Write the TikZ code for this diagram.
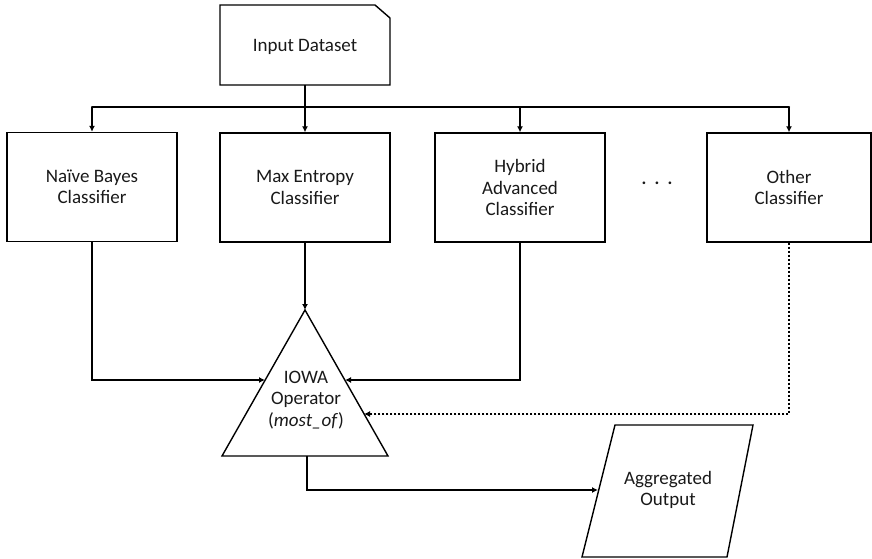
\documentclass[tikz,border=0pt]{standalone}
\usepackage{fontspec}
\setmainfont{Carlito}
\usetikzlibrary{arrows.meta}
\begin{document}
\begin{tikzpicture}[x=1pt,y=-1pt,
  cbox/.style={draw,line width=1.4pt,minimum width=170pt,minimum height=109pt,align=center,inner sep=0pt},
  txt/.style={font=\fontsize{19}{21.5}\selectfont,align=center,text=black!90},
  shapeline/.style={draw,line width=1.4pt,line join=miter},
  conn/.style={line width=2pt},
  arr/.style={conn,-{Latex[length=6pt,width=6pt]}},
  dotarr/.style={line width=2pt,dotted,-{Latex[length=6pt,width=6pt]}}]
\useasboundingbox (0,0) rectangle (872,559);
% input dataset
\draw[shapeline] (220,5) -- (375,5) -- (390,18) -- (390,85) -- (220,85) -- cycle;
\node[txt] (in) at (305,47) {Input Dataset};
\coordinate (inb) at (305,85);
% classifiers
\node[cbox,txt] (nb) at (92,187) {Naïve Bayes\\Classifier};
\node[cbox,txt] (me) at (305,187.5) {Max Entropy\\Classifier};
\node[cbox,txt] (hy) at (520,187.5) {Hybrid\\Advanced\\Classifier};
\node[cbox,txt,minimum width=164pt] (ot) at (789,187.5) {Other\\Classifier};
\node[txt,font=\fontsize{18}{20}\selectfont\bfseries] (dots) at (657,183) {.\ \ .\ \ .};
% bus
\coordinate (bl) at (92,107);
\coordinate (bm) at (305,107);
\coordinate (bh) at (520,107);
\coordinate (br) at (789,107);
\draw[conn] (inb) -- (bm);
\draw[conn,line cap=round] (bl) -- (br);
\draw[arr] (bl) -- (nb.north);
\draw[arr] (bm) -- (me.north);
\draw[arr] (bh) -- (hy.north);
\draw[arr] (br) -- (ot.north);
% triangle
\coordinate (tA) at (305,310);
\coordinate (tL) at (222,456);
\coordinate (tR) at (388,456);
\draw[shapeline] (tA) -- (tR) -- (tL) -- cycle;
\node[txt] (iowa) at (306,400) {IOWA\\Operator\\(\textit{most\_of})};
\coordinate (tinL) at (265,380);
\coordinate (tinR) at (345,380);
\coordinate (tinD) at (364,414);
\coordinate (tbot) at (307,456);
\draw[arr] (me.south) -- (tA);
\draw[arr] (nb.south) |- (tinL);
\draw[arr] (hy.south) |- (tinR);
\draw[dotarr] (ot.south) |- (tinD);
% output
\draw[shapeline] (615,425) -- (753,425) -- (727,557) -- (582,557) -- cycle;
\node[txt] (out) at (668,490) {Aggregated\\Output};
\coordinate (outin) at (598,490);
\draw[arr] (tbot) |- (outin);
\end{tikzpicture}
\end{document}
